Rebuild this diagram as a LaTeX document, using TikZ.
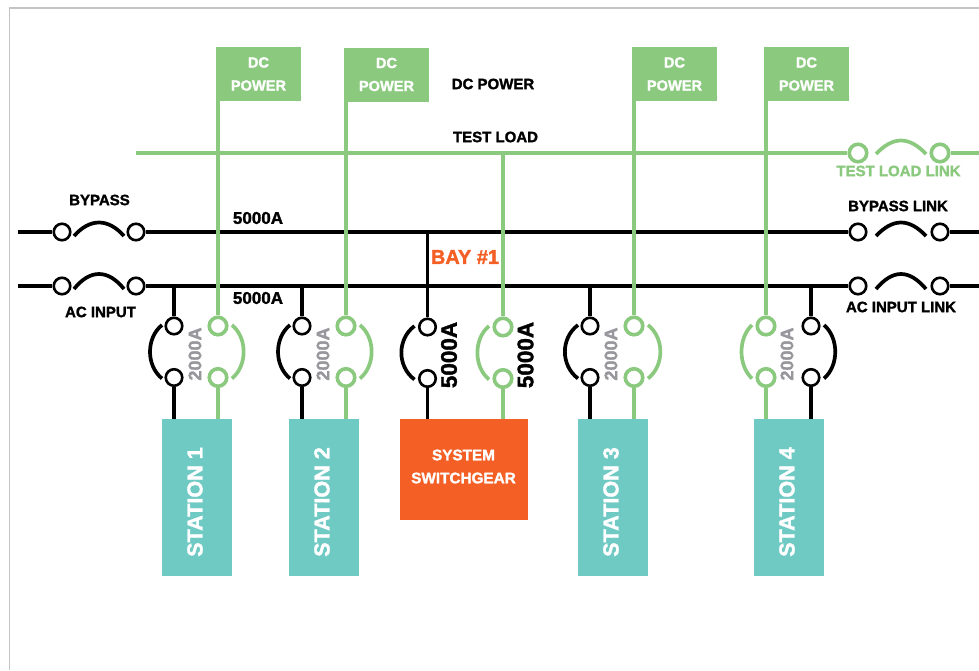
\documentclass[tikz,border=0pt]{standalone}
\usepackage{fontspec}
\setmainfont[BoldFeatures={FakeBold=1.6}]{Liberation Sans}
\usepackage{xcolor}
\usetikzlibrary{positioning,calc}
\definecolor{busgreen}{HTML}{8BC97F}
\definecolor{stationteal}{HTML}{6FCAC4}
\definecolor{gearorange}{HTML}{F45F25}
\definecolor{framegray}{HTML}{C4C4C4}
\definecolor{ampgray}{HTML}{97979C}
\tikzset{
  term/.style = {circle, draw, fill = white, line width = 2.6pt, minimum size = 16.5pt, inner sep = 0pt},
  gterm/.style = {term, draw = busgreen, line width = 3.6pt, minimum size = 17.5pt},
  wire/.style = {line width = 3.7pt},
  lbl/.style = {font = \fontsize{15}{18}\selectfont\bfseries, inner sep = 0pt, align = center},
  dcbox/.style = {fill = busgreen, text = white, minimum width = 85pt, minimum height = 54pt, inner sep = 0pt,
    font = \fontsize{14.6}{23}\selectfont\bfseries, align = center},
  stationbox/.style = {fill = stationteal, text = white, minimum width = 70pt, minimum height = 157pt, inner sep = 0pt},
  stationtext/.style = {text = white, rotate = 90, font = \fontsize{21.6}{24}\selectfont\bfseries, inner sep = 0pt},
  amp/.style = {lbl, rotate = 90, font = \fontsize{18}{20}\selectfont\bfseries}
}
\begin{document}
\begin{tikzpicture}[x = 1pt, y = -1pt]
    \useasboundingbox (0,0) rectangle (979,670);
    \draw[framegray, line width = 1.2pt] (9.5,670) -- (9.5,8) -- (979,8);

    % boxes
    \node[dcbox] (dc1) at (258.5,74) {DC\\POWER};
    \node[dcbox] (dc2) at (386.5,74.5) {DC\\POWER};
    \node[dcbox] (dc3) at (674.5,74) {DC\\POWER};
    \node[dcbox] (dc4) at (806.5,74) {DC\\POWER};
    \node[stationbox] (st1) at (197,497.5) {};
    \node[stationbox] (st2) at (324,497.5) {};
    \node[stationbox] (st3) at (613,497.5) {};
    \node[stationbox] (st4) at (789,497.5) {};
    \node[stationtext] (st1t) at (195,502) {STATION 1};
    \node[stationtext] (st2t) at (322,502) {STATION 2};
    \node[stationtext] (st3t) at (611,502) {STATION 3};
    \node[stationtext] (st4t) at (787,502) {STATION 4};
    \node[fill = gearorange, minimum width = 128pt, minimum height = 101pt, inner sep = 0pt] (gear) at (464,469.5) {};
    \node[font = \fontsize{15.3}{23}\selectfont\bfseries, text = white, align = center, inner sep = 0pt] (geart) at (463.5,466.5) {SYSTEM\\SWITCHGEAR};

    % bus ends
    \coordinate (bypassw) at (18,232);
    \coordinate (bypasse) at (979,232);
    \coordinate (acw) at (18,286);
    \coordinate (ace) at (979,286);
    \coordinate (testw) at (136,153);
    \coordinate (teste) at (979,153);

    % bus links
    \node[term] (by1) at (62,232) {};
    \node[term] (by2) at (136,232) {};
    \node[term] (ac1) at (62,286) {};
    \node[term] (ac2) at (136,286) {};
    \node[term] (byl1) at (858,232) {};
    \node[term] (byl2) at (940,232) {};
    \node[term] (acl1) at (858,286) {};
    \node[term] (acl2) at (940,286) {};
    \node[gterm] (tl1) at (858,153) {};
    \node[gterm] (tl2) at (940,153) {};

    % breakers, top then bottom
    \node[term] (a1) at (174,326) {};
    \node[term] (a2) at (174,377.5) {};
    \node[gterm] (b1) at (218,326) {};
    \node[gterm] (b2) at (218,377.5) {};
    \node[term] (c1) at (302,326) {};
    \node[term] (c2) at (302,377.5) {};
    \node[gterm] (d1) at (346,326) {};
    \node[gterm] (d2) at (346,377.5) {};
    \node[term] (e1) at (427.5,327) {};
    \node[term] (e2) at (427.5,378.5) {};
    \node[gterm] (f1) at (503,327) {};
    \node[gterm] (f2) at (503,378.5) {};
    \node[term] (g1) at (590,326) {};
    \node[term] (g2) at (590,377.5) {};
    \node[gterm] (h1) at (634,326) {};
    \node[gterm] (h2) at (634,377.5) {};
    \node[gterm] (i1) at (766,326) {};
    \node[gterm] (i2) at (766,377.5) {};
    \node[term] (j1) at (811,326) {};
    \node[term] (j2) at (811,377.5) {};

    % black wires
    \draw[wire] (bypassw) -- (by1);
    \draw[wire] (by2) -- (byl1);
    \draw[wire] (byl2) -- (bypasse);
    \draw[wire] (acw) -- (ac1);
    \draw[wire] (ac2) -- (acl1);
    \draw[wire] (acl2) -- (ace);
    \draw[wire] (a1 |- ac2) -- (a1);
    \draw[wire] (a2) -- (a2 |- st1.north);
    \draw[wire] (c1 |- ac2) -- (c1);
    \draw[wire] (c2) -- (c2 |- st2.north);
    \draw[wire] (e1 |- by2) -- (e1);
    \draw[wire] (e2) -- (e2 |- gear.north);
    \draw[wire] (g1 |- ac2) -- (g1);
    \draw[wire] (g2) -- (g2 |- st3.north);
    \draw[wire] (j1 |- ac2) -- (j1);
    \draw[wire] (j2) -- (j2 |- st4.north);

    % green wires
    \draw[wire, busgreen] (testw) -- (tl1);
    \draw[wire, busgreen] (tl2) -- (teste);
    \draw[wire, busgreen] (b1 |- dc1.south) -- (b1);
    \draw[wire, busgreen] (b2) -- (b2 |- st1.north);
    \draw[wire, busgreen] (d1 |- dc2.south) -- (d1);
    \draw[wire, busgreen] (d2) -- (d2 |- st2.north);
    \draw[wire, busgreen] (f1 |- testw) -- (f1);
    \draw[wire, busgreen] (f2) -- (f2 |- gear.north);
    \draw[wire, busgreen] (h1 |- dc3.south) -- (h1);
    \draw[wire, busgreen] (h2) -- (h2 |- st3.north);
    \draw[wire, busgreen] (i1 |- dc4.south) -- (i1);
    \draw[wire, busgreen] (i2) -- (i2 |- st4.north);

    % link arcs
    \draw[wire] (74,236) .. controls (90,218) and (108,218) .. (124,236);
    \draw[wire] (74,289) .. controls (90,269) and (108,269) .. (124,289);
    \draw[wire] (876,236) .. controls (893,218) and (909,218) .. (926,236);
    \draw[wire] (876,289) .. controls (893,269) and (909,269) .. (926,289);
    \draw[wire, busgreen] (876,154) .. controls (893,136) and (909,136) .. (926,154);

    % breaker arcs
    \draw[wire] ($(a1)+(-12,-1)$) .. controls ($(a1)+(-28,12)$) and ($(a2)+(-28,-12)$) .. ($(a2)+(-12,1)$);
    \draw[wire, busgreen] ($(b1)+(14,-1)$) .. controls ($(b1)+(29.5,12)$) and ($(b2)+(29.5,-12)$) .. ($(b2)+(14,1)$);
    \draw[wire] ($(c1)+(-12,-1)$) .. controls ($(c1)+(-28,12)$) and ($(c2)+(-28,-12)$) .. ($(c2)+(-12,1)$);
    \draw[wire, busgreen] ($(d1)+(14,-1)$) .. controls ($(d1)+(29.5,12)$) and ($(d2)+(29.5,-12)$) .. ($(d2)+(14,1)$);
    \draw[wire] ($(e1)+(-13,-1)$) .. controls ($(e1)+(-30.5,12)$) and ($(e2)+(-30.5,-12)$) .. ($(e2)+(-13,1)$);
    \draw[wire, busgreen] ($(f1)+(-14,-1)$) .. controls ($(f1)+(-29.5,12)$) and ($(f2)+(-29.5,-12)$) .. ($(f2)+(-14,1)$);
    \draw[wire] ($(g1)+(-12,-1)$) .. controls ($(g1)+(-29.5,12)$) and ($(g2)+(-29.5,-12)$) .. ($(g2)+(-12,1)$);
    \draw[wire, busgreen] ($(h1)+(14,-1)$) .. controls ($(h1)+(30.5,12)$) and ($(h2)+(30.5,-12)$) .. ($(h2)+(14,1)$);
    \draw[wire, busgreen] ($(i1)+(-14,-1)$) .. controls ($(i1)+(-28,12)$) and ($(i2)+(-28,-12)$) .. ($(i2)+(-14,1)$);
    \draw[wire] ($(j1)+(13,-1)$) .. controls ($(j1)+(28,12)$) and ($(j2)+(28,-12)$) .. ($(j2)+(13,1)$);

    % labels
    \node[lbl] (dclbl) at (493,84) {DC POWER};
    \node[lbl] (testlbl) at (495.5,137) {TEST LOAD};
    \node[lbl] (bylbl) at (99.5,200) {BYPASS};
    \node[lbl] (aclbl) at (100.5,312) {AC INPUT};
    \node[lbl, font = \fontsize{17}{20}\selectfont\bfseries] (amptop) at (258,218) {5000A};
    \node[lbl, font = \fontsize{17}{20}\selectfont\bfseries] (ampbot) at (258,298) {5000A};
    \node[lbl, text = busgreen] (tllbl) at (898.5,171) {TEST LOAD LINK};
    \node[lbl] (bylbl2) at (898,206) {BYPASS LINK};
    \node[lbl] (aclbl2) at (901,307) {AC INPUT LINK};
    \node[lbl, font = \fontsize{20}{22}\selectfont\bfseries, text = gearorange] (baylbl) at (465,257) {BAY \#1};
    \node[amp, text = ampgray] (amp1) at (195,354) {2000A};
    \node[amp, text = ampgray] (amp2) at (323,354) {2000A};
    \node[amp, text = ampgray] (amp3) at (611,354) {2000A};
    \node[amp, text = ampgray] (amp4) at (787,354) {2000A};
    \node[amp, font = \fontsize{22.5}{24}\selectfont\bfseries] (amp5) at (449,355) {5000A};
    \node[amp, font = \fontsize{22.5}{24}\selectfont\bfseries] (amp6) at (525.5,355) {5000A};
   \end{tikzpicture}
\end{document}
